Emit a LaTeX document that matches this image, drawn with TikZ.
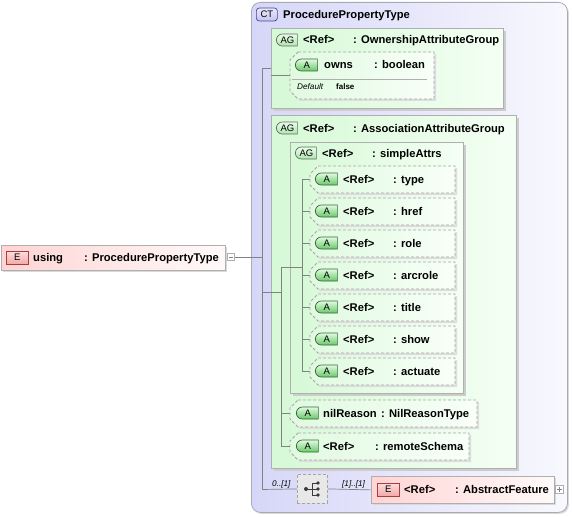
\documentclass[tikz,border=0pt]{standalone}
\usepackage{fontspec}
\setmainfont{Liberation Sans}
\usetikzlibrary{shapes.misc,shadows}

\definecolor{ctL}{RGB}{214,214,248}
\definecolor{ctR}{RGB}{248,248,254}
\definecolor{ctline}{RGB}{170,170,180}
\definecolor{agL}{RGB}{214,249,214}
\definecolor{agR}{RGB}{244,255,244}
\definecolor{attL}{RGB}{224,250,224}
\definecolor{attR}{RGB}{248,255,248}
\definecolor{elL}{RGB}{255,212,212}
\definecolor{elR}{RGB}{255,250,250}
\definecolor{boxline}{RGB}{175,175,175}
\definecolor{dashline}{RGB}{165,165,165}
\definecolor{connc}{RGB}{130,130,130}
\definecolor{Aline}{RGB}{50,105,50}
\definecolor{Atop}{RGB}{225,250,225}
\definecolor{Abot}{RGB}{105,200,105}
\definecolor{AGline}{RGB}{95,110,95}
\definecolor{AGtop}{RGB}{235,252,235}
\definecolor{AGbot}{RGB}{175,228,175}
\definecolor{Eline}{RGB}{170,60,60}
\definecolor{Etop}{RGB}{253,222,222}
\definecolor{Ebot}{RGB}{240,170,170}
\definecolor{CTline}{RGB}{70,70,150}
\definecolor{CTtop}{RGB}{232,232,252}
\definecolor{CTbot}{RGB}{196,196,240}
\definecolor{seqfill}{RGB}{232,232,232}
\definecolor{icon}{RGB}{60,60,60}

\tikzset{
  conn/.style={draw=connc, line width=0.7pt},
  lbl/.style={font=\fontsize{11.2}{12}\selectfont\bfseries, inner sep=0pt, anchor=base west},
  smallit/.style={font=\fontsize{8.2}{9}\selectfont\itshape, inner sep=0pt, anchor=base west},
  smallbf/.style={font=\fontsize{8}{9}\selectfont\bfseries, inner sep=0pt, anchor=base west},
  ctbox/.style={draw=ctline, line width=0.8pt, rounded corners=9pt, left color=ctL, right color=ctR,
    drop shadow={shadow xshift=1.5pt, shadow yshift=-1.5pt, fill=black!15, opacity=1}},
  agbox/.style={draw=boxline, line width=0.8pt, left color=agL, right color=agR,
    drop shadow={shadow xshift=2.5pt, shadow yshift=-2.5pt, fill=black!20, opacity=1}},
  elbox/.style={draw=boxline, line width=0.8pt, left color=elL, right color=elR,
    drop shadow={shadow xshift=2pt, shadow yshift=-2pt, fill=black!15, opacity=1}},
  seqbox/.style={draw=dashline, dash pattern=on 3pt off 2pt, line width=0.8pt, fill=seqfill},
  hidden/.style={draw=none, inner sep=0pt},
  attline/.style={draw=dashline, dash pattern=on 3pt off 2pt, line width=0.8pt},
  badgeA/.style={rounded rectangle, rounded rectangle right arc=none, draw=Aline, line width=0.7pt,
    top color=Atop, bottom color=Abot, inner sep=0pt, minimum width=22pt, minimum height=12pt,
    font=\fontsize{9.5}{9}\selectfont, anchor=west},
  badgeAG/.style={rounded rectangle, rounded rectangle right arc=none, draw=AGline, line width=0.7pt,
    top color=AGtop, bottom color=AGbot, inner sep=0pt, minimum width=21pt, minimum height=12pt,
    font=\fontsize{9.5}{9}\selectfont, anchor=west},
  badgeE/.style={rectangle, draw=Eline, line width=0.7pt, top color=Etop, bottom color=Ebot,
    inner sep=0pt, minimum width=22pt, minimum height=13pt, font=\fontsize{9.5}{9}\selectfont, anchor=west},
  badgeCT/.style={rectangle, rounded corners=3pt, draw=CTline, line width=0.7pt, top color=CTtop,
    bottom color=CTbot, inner sep=0pt, minimum width=21pt, minimum height=13pt,
    font=\fontsize{9.5}{9}\selectfont, anchor=west},
  pmbox/.style={rectangle, draw=boxline, fill=white, line width=0.6pt, inner sep=0pt,
    minimum width=7.5pt, minimum height=7.5pt},
}

% generic box: style, name, x0, y0, x1, y1
\newcommand\xbox[6]{%
  \node[#1, anchor=north west, inner sep=0pt, minimum width={(#5)-(#3)}, minimum height={(#6)-(#4)}] (#2) at (#3,#4) {};}

% attribute box with chamfered left corners: name, x0, y0, x1, y1
\newcommand\xattr[5]{%
  \fill[black!13] (#2+2+8,#3+2) -- (#4+2,#3+2) -- (#4+2,#5+2) -- (#2+2+8,#5+2) -- (#2+2,#5+2-8) -- (#2+2,#3+2+8) -- cycle;
  \path[left color=attL, right color=attR] (#2+8,#3) -- (#4,#3) -- (#4,#5) -- (#2+8,#5) -- (#2,#5-8) -- (#2,#3+8) -- cycle;
  \draw[attline] (#2+8,#3) -- (#4,#3) -- (#4,#5) -- (#2+8,#5) -- (#2,#5-8) -- (#2,#3+8) -- cycle;
  \node[hidden, anchor=north west, minimum width={(#4)-(#2)}, minimum height={(#5)-(#3)}] (#1) at (#2,#3) {};}

% attribute row inside simpleAttrs: name, centre y, label
\newcommand\xrefattr[3]{%
  \xattr{#1}{310}{#2-13}{455}{#2+14}
  \node[badgeA] (#1-b) at (315,#2) {A};
  \node[lbl] (#1-r) at (343,#2+4) {<Ref>};
  \node[lbl] (#1-t) at (393,#2+4) {: #3};}

\begin{document}
\begin{tikzpicture}[x=1pt,y=-1pt]
\useasboundingbox (0,0) rectangle (572,516);

% complex type container
\xbox{ctbox}{ct}{251}{2}{567}{512}
\node[badgeCT] (ct-b) at (256,14.5) {CT};
\node[lbl] (ct-t) at (283,18.5) {ProcedurePropertyType};

% ownership attribute group
\xbox{agbox}{own}{271}{28}{503}{108}
\node[badgeAG] (own-b) at (276,40) {AG};
\node[lbl] (own-r) at (303,44) {<Ref>};
\node[lbl] (own-t) at (353,44) {: OwnershipAttributeGroup};
\xattr{owns}{290}{52}{434}{99}
\node[badgeA] (owns-b) at (295,65) {A};
\node[lbl] (owns-n) at (324,69) {owns};
\node[lbl] (owns-t) at (374,69) {: boolean};
\draw[draw=boxline, line width=0.7pt] (292,79) -- (427,79);
\node[smallit] (owns-d) at (297,89.5) {Default};
\node[smallbf] (owns-f) at (336,89.5) {false};

% association attribute group
\xbox{agbox}{assoc}{271}{115}{516}{468}
\node[badgeAG] (assoc-b) at (276,128) {AG};
\node[lbl] (assoc-r) at (303,132) {<Ref>};
\node[lbl] (assoc-t) at (353,132) {: AssociationAttributeGroup};

% simpleAttrs group
\xbox{agbox}{simple}{290}{142}{463}{393}
\node[badgeAG] (simple-b) at (295,153) {AG};
\node[lbl] (simple-r) at (322,157) {<Ref>};
\node[lbl] (simple-t) at (372,157) {: simpleAttrs};

\xrefattr{type}{179}{type}
\xrefattr{href}{211}{href}
\xrefattr{role}{243}{role}
\xrefattr{arcrole}{275}{arcrole}
\xrefattr{title}{307}{title}
\xrefattr{show}{339}{show}
\xrefattr{actuate}{371}{actuate}

% nilReason and remoteSchema
\xattr{nil}{290}{400}{477}{427}
\node[badgeA] (nil-b) at (296,413) {A};
\node[lbl] (nil-n) at (323,417) {nilReason};
\node[lbl] (nil-t) at (381,417) {: NilReasonType};
\xattr{remote}{290}{433}{469}{460}
\node[badgeA] (remote-b) at (296,446) {A};
\node[lbl] (remote-r) at (323,450) {<Ref>};
\node[lbl] (remote-t) at (375,450) {: remoteSchema};

% element using
\xbox{elbox}{using}{1}{245}{225}{270}
\node[badgeE] (using-b) at (6,257.5) {E};
\node[lbl] (using-n) at (33,261.5) {using};
\node[lbl] (using-t) at (84,261.5) {: ProcedurePropertyType};
\node[pmbox] (minus) at (231,257) {};
\draw[draw=connc, line width=0.6pt] (228.8,257) -- (233.2,257);

% sequence and AbstractFeature
\xbox{seqbox}{seq}{297}{474}{327}{503}
\fill[icon] (306,489) circle (2pt);
\draw[icon, line width=0.8pt] (306,489) -- (312,489) (312,483) -- (312,495)
  (312,483) -- (318,483) (312,489) -- (318,489) (312,495) -- (318,495);
\fill[icon] (318,483) circle (1.8pt) (318,489) circle (1.8pt) (318,495) circle (1.8pt);
\node[smallit] (occ1) at (272,486) {0..[1]};
\node[smallit] (occ2) at (342,486) {[1]..[1]};

\xbox{elbox}{af}{371}{476}{554}{503}
\node[badgeE] (af-b) at (377,489.5) {E};
\node[lbl] (af-r) at (404,493.5) {<Ref>};
\node[lbl] (af-t) at (455,493.5) {: AbstractFeature};
\node[pmbox] (plus) at (559.5,489.5) {};
\draw[draw=connc, line width=0.6pt] (557.3,489.5) -- (561.7,489.5) (559.5,487.3) -- (559.5,491.7);

% connectors
\coordinate (jtop) at (262,68);
\coordinate (jbot) at (262,489.5);
\coordinate (ka) at (281,267.5);
\coordinate (kb) at (281,446.5);
\coordinate (sa) at (302,179.5);
\coordinate (sb) at (302,371.5);

\draw[conn] (minus.east) -- (minus.east -| jtop);
\draw[conn] (jtop) -- (jbot);
\draw[conn] (jtop) -- (jtop -| own.west);
\draw[conn] (own.west |- owns.west) -- (owns.west);
\draw[conn] (jtop |- assoc.west) -- (assoc.west -| ka);
\draw[conn] (ka) -- (kb);
\draw[conn] (ka) -- (ka -| sa);
\draw[conn] (sa) -- (sb);
\foreach \n in {type,href,role,arcrole,title,show,actuate}
  \draw[conn] (\n.west -| sa) -- (\n.west);
\draw[conn] (nil.west -| ka) -- (nil.west);
\draw[conn] (remote.west -| ka) -- (remote.west);
\draw[conn] (jbot) -- (seq.west);
\draw[conn] (seq.east) -- (af.west);
\end{tikzpicture}
\end{document}
